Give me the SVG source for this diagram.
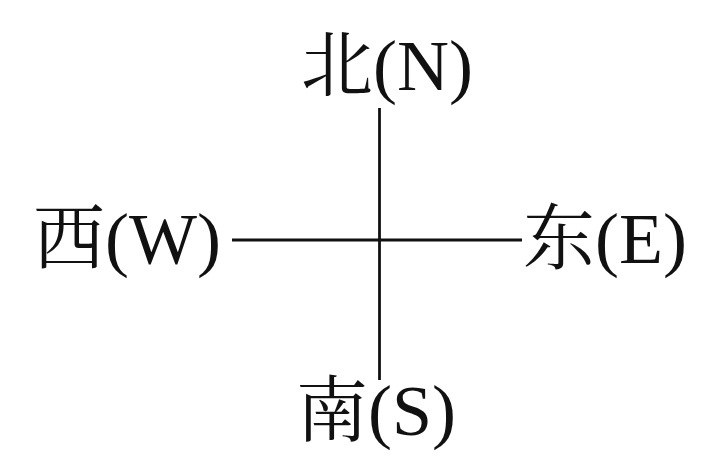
<svg xmlns="http://www.w3.org/2000/svg" width="722" height="476" viewBox="0 0 722 476">
<style>
.lbl{font-family:"Liberation Serif","Noto Serif CJK SC","Noto Sans CJK SC",serif;font-size:72px;fill:#111;}
.ln{stroke:#111;stroke-width:2.8;fill:none;}
</style>
<rect width="722" height="476" fill="#fff"/>
<g id="connectors">
<line class="ln" x1="379.5" y1="108" x2="379.5" y2="380"/>
<line class="ln" x1="232" y1="240" x2="522" y2="240"/>
</g>
<g id="north"><text class="lbl" x="301" y="90">北(N)</text></g>
<g id="west"><text class="lbl" x="33" y="263">西(W)</text></g>
<g id="east"><text class="lbl" x="523" y="263">东(E)</text></g>
<g id="south"><text class="lbl" x="296" y="435">南(S)</text></g>
</svg>
